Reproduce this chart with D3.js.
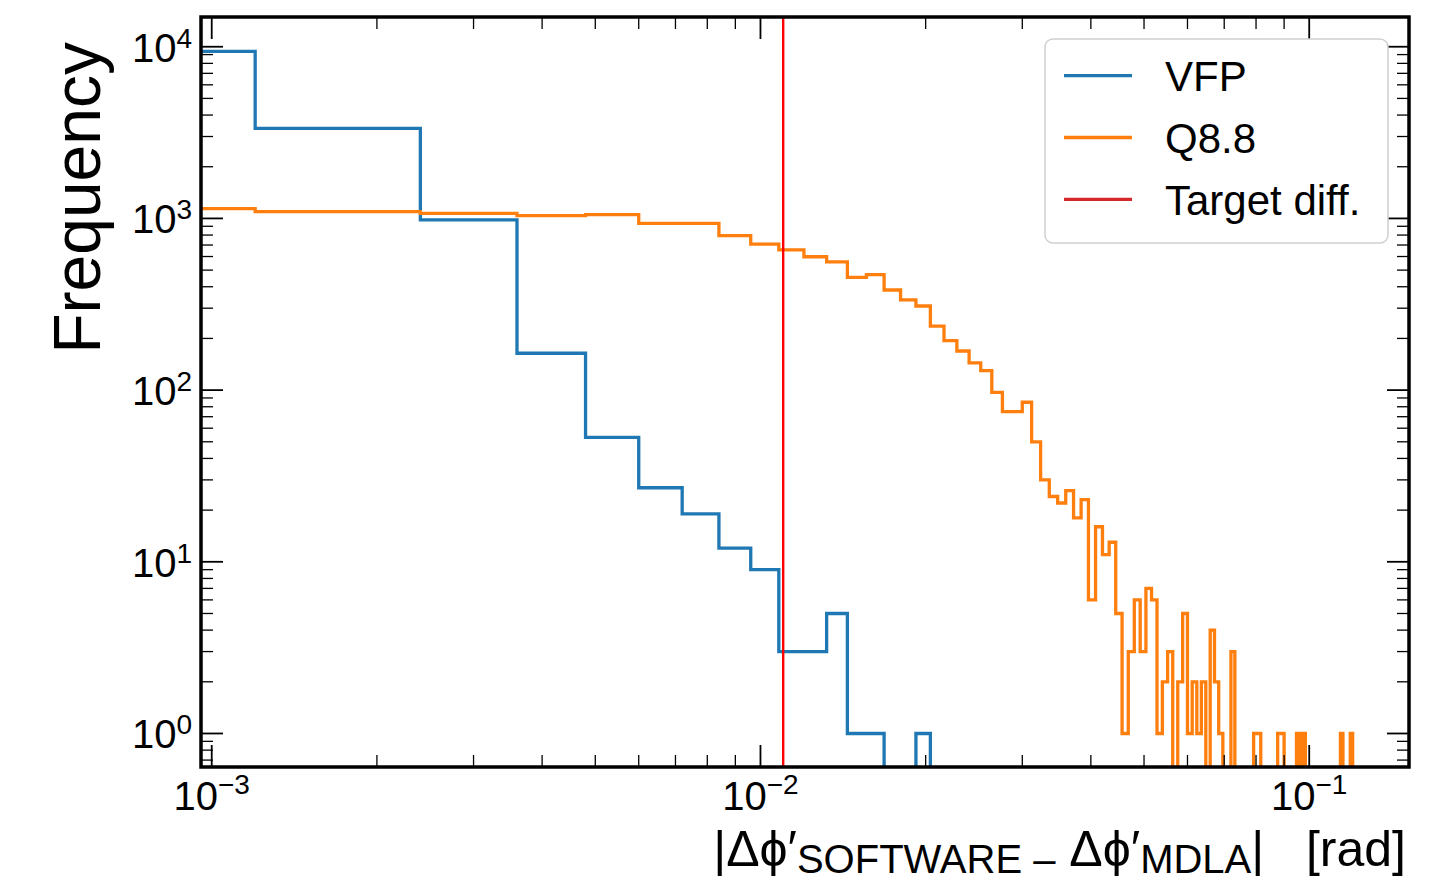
<!DOCTYPE html>
<meta charset="utf-8">
<!-- Load d3.js -->
<script src="https://d3js.org/d3.v7.min.js"></script>
<style>
  body { margin: 0; background: #fff; }
</style>

<!-- Create a div where the graph will take place -->
<div id="my_dataviz"></div>

<script>

// 100 bins of equal width, first bin starts at 0 rad
var binWidth = 0.0012

// counts per bin, VFP
var vfpCounts = [
  9400, 3350, 980, 164, 53, 27, 19, 12, 9, 3,
  3, 5, 1, 1, 0, 0, 1, 0, 0, 0,
  0, 0, 0, 0, 0, 0, 0, 0, 0, 0,
  0, 0, 0, 0, 0, 0, 0, 0, 0, 0,
  0, 0, 0, 0, 0, 0, 0, 0, 0, 0,
  0, 0, 0, 0, 0, 0, 0, 0, 0, 0,
  0, 0, 0, 0, 0, 0, 0, 0, 0, 0,
  0, 0, 0, 0, 0, 0, 0, 0, 0, 0,
  0, 0, 0, 0, 0, 0, 0, 0, 0, 0,
  0, 0, 0, 0, 0, 0, 0, 0, 0, 0
]

// counts per bin, Q8.8
var q88Counts = [
  1140, 1094, 1071, 1037, 1051, 936, 936, 793, 709, 655,
  598, 559, 454, 470, 383, 335, 309, 236, 194, 169,
  144, 130, 97, 75, 75, 85, 50, 30, 24, 22,
  26, 18, 23, 6, 16, 11, 13, 5, 1, 3,
  6, 3, 7, 6, 1, 2, 3, 0, 2, 5,
  1, 2, 1, 2, 0, 4, 2, 1, 0, 0,
  3, 0, 0, 0, 0, 0, 1, 1, 0, 0,
  0, 0, 0, 1, 1, 0, 0, 0, 0, 1,
  0, 1, 0, 0, 0, 0, 0, 0, 0, 0,
  0, 0, 0, 0, 0, 1, 0, 0, 0, 1
]

var targetDiff = 0.011

var seriesNames = ["VFP", "Q8.8", "Target diff."]
var seriesColors = ["#1f77b4", "#ff7f0e", "#d62728"]

var xMajorTicks = [1e-3, 1e-2, 1e-1]
var xTickExps = ["\u22123", "\u22122", "\u22121"]
var yMajorTicks = [1, 10, 100, 1000, 10000]
var yTickExps = ["0", "1", "2", "3", "4"]

// set the dimensions and margins of the graph
var width = 1430,
    height = 881
var margin = {top: 17, right: 21, bottom: 114, left: 201}

var svg = d3.select("#my_dataviz")
  .append("svg")
    .attr("width", width)
    .attr("height", height)
    .style("font-family", "'Liberation Sans', Arial, Helvetica, sans-serif")

var x = d3.scaleLog()
  .domain([0.000956, 0.152])
  .range([margin.left, width - margin.right])

var y = d3.scaleLog()
  .domain([0.638, 14900])
  .range([height - margin.bottom, margin.top])

var x0 = margin.left, x1 = width - margin.right
var y0 = height - margin.bottom, y1 = margin.top

svg.append("clipPath")
    .attr("id", "plotclip")
  .append("rect")
    .attr("x", x0)
    .attr("y", y1)
    .attr("width", x1 - x0)
    .attr("height", y0 - y1)

// step outline like matplotlib histtype='step'
var xFloor = x.domain()[0] * 0.8
var yFloor = 0.1
function stepPoints(counts) {
  var pts = []
  var e = function(k) { return Math.max(k * binWidth, xFloor) }
  pts.push([e(0), yFloor])
  counts.forEach(function(c, i) {
    var v = Math.max(c, yFloor)
    pts.push([e(i), v])
    pts.push([e(i + 1), v])
  })
  pts.push([e(counts.length), yFloor])
  return pts
}

var line = d3.line()
  .x(function(d) { return x(d[0]) })
  .y(function(d) { return y(d[1]) })

var plot = svg.append("g").attr("clip-path", "url(#plotclip)")

plot.append("path")
  .attr("d", line(stepPoints(vfpCounts)))
  .attr("fill", "none")
  .attr("stroke", seriesColors[0])
  .attr("stroke-width", 3.3)
  .attr("stroke-linejoin", "miter")

plot.append("path")
  .attr("d", line(stepPoints(q88Counts)))
  .attr("fill", "none")
  .attr("stroke", seriesColors[1])
  .attr("stroke-width", 3.3)
  .attr("stroke-linejoin", "miter")

// target line
plot.append("line")
  .attr("x1", x(targetDiff))
  .attr("x2", x(targetDiff))
  .attr("y1", y1)
  .attr("y2", y0)
  .attr("stroke", "#ff0000")
  .attr("stroke-width", 2.4)

// ticks, pointing inwards on all four sides
var majorLen = 22, minorLen = 12
var xMinor = [], yMinor = []
for (var d = -4; d <= 0; d++) {
  for (var m = 2; m <= 9; m++) {
    var v = m * Math.pow(10, d)
    if (v > x.domain()[0] && v < x.domain()[1]) xMinor.push(v)
  }
}
for (var d = -1; d <= 4; d++) {
  for (var m = 2; m <= 9; m++) {
    var v = m * Math.pow(10, d)
    if (v > y.domain()[0] && v < y.domain()[1]) yMinor.push(v)
  }
}

var ticks = svg.append("g").attr("stroke", "#000")

function xTickLines(vals, len, w) {
  vals.forEach(function(v) {
    ticks.append("line").attr("x1", x(v)).attr("x2", x(v))
      .attr("y1", y0).attr("y2", y0 - len).attr("stroke-width", w)
    ticks.append("line").attr("x1", x(v)).attr("x2", x(v))
      .attr("y1", y1).attr("y2", y1 + len).attr("stroke-width", w)
  })
}
function yTickLines(vals, len, w) {
  vals.forEach(function(v) {
    ticks.append("line").attr("y1", y(v)).attr("y2", y(v))
      .attr("x1", x0).attr("x2", x0 + len).attr("stroke-width", w)
    ticks.append("line").attr("y1", y(v)).attr("y2", y(v))
      .attr("x1", x1).attr("x2", x1 - len).attr("stroke-width", w)
  })
}
xTickLines(xMinor, minorLen, 1.3)
xTickLines(xMajorTicks, majorLen, 1.8)
yTickLines(yMinor, minorLen, 1.3)
yTickLines(yMajorTicks, majorLen, 1.8)

// spines
svg.append("rect")
  .attr("x", x0)
  .attr("y", y1)
  .attr("width", x1 - x0)
  .attr("height", y0 - y1)
  .attr("fill", "none")
  .attr("stroke", "#000")
  .attr("stroke-width", 3.5)

// tick labels as 10^n
xMajorTicks.forEach(function(v, i) {
  var t = svg.append("text")
    .attr("x", x(v))
    .attr("y", 810)
    .attr("text-anchor", "middle")
    .attr("font-size", 40)
  t.append("tspan").text("10")
  t.append("tspan").attr("dy", -16).attr("font-size", 28).text(xTickExps[i])
})

yMajorTicks.forEach(function(v, i) {
  var t = svg.append("text")
    .attr("x", 192)
    .attr("y", y(v) + 15)
    .attr("text-anchor", "end")
    .attr("font-size", 40)
  t.append("tspan").text("10")
  t.append("tspan").attr("dy", -14).attr("font-size", 28).text(yTickExps[i])
})

// axis labels
svg.append("text")
  .attr("transform", "translate(100,42) rotate(-90)")
  .attr("text-anchor", "end")
  .attr("font-size", 66)
  .text("Frequency")

var xl = svg.append("text")
  .attr("x", 1406)
  .attr("y", 866)
  .attr("text-anchor", "end")
  .attr("font-size", 50)
  .style("white-space", "pre")
xl.append("tspan").text("|\u0394\u03d5\u2032")
xl.append("tspan").attr("font-size", 40).attr("dy", 7).text("SOFTWARE \u2013")
xl.append("tspan").attr("dy", -7).text(" \u0394\u03d5\u2032")
xl.append("tspan").attr("font-size", 40).attr("dy", 7).text("MDLA")
xl.append("tspan").attr("dy", -7).text("|   [rad]")

// legend
var legend = svg.append("g")
legend.append("rect")
  .attr("x", 1045)
  .attr("y", 39)
  .attr("width", 343)
  .attr("height", 204)
  .attr("rx", 8)
  .attr("fill", "#fff")
  .attr("fill-opacity", 0.85)
  .attr("stroke", "#d0d0d0")
  .attr("stroke-width", 1.5)

seriesNames.forEach(function(name, i) {
  var ly = 75.7 + i * 61.8
  legend.append("line")
    .attr("x1", 1064)
    .attr("x2", 1132)
    .attr("y1", ly)
    .attr("y2", ly)
    .attr("stroke", seriesColors[i])
    .attr("stroke-width", 3.3)
  legend.append("text")
    .attr("x", 1165)
    .attr("y", ly + 15.5)
    .attr("font-size", 42)
    .text(name)
})

</script>
